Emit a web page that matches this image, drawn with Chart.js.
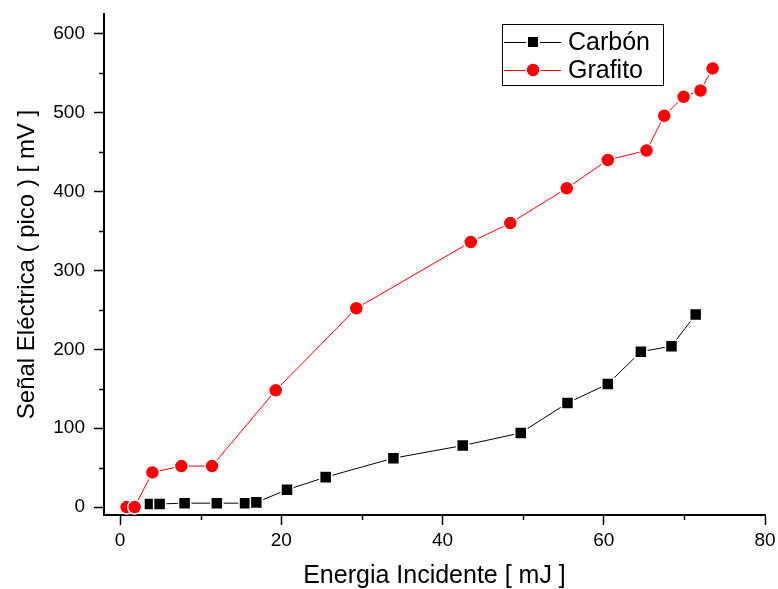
<!DOCTYPE html>
<html>
<head>
<meta charset="utf-8">
<script src="https://cdn.jsdelivr.net/npm/chart.js@4.4.0/dist/chart.umd.min.js"></script>
<style>
  html, body { margin: 0; padding: 0; background: #fff; }
  #wrap { width: 778px; height: 589px; }
</style>
</head>
<body>
<div id="wrap"><canvas id="chart" width="778" height="589"></canvas></div>
<script>
// valores
const carbonX = [3.7, 4.9, 8.0, 12.0, 15.5, 16.9, 20.7, 25.5, 33.9, 42.5, 49.7, 55.5, 60.5, 64.6, 68.4, 71.4];
const carbonY = [4, 4, 5, 5, 5, 6, 22, 38, 62, 78, 94, 132, 156, 197, 204, 244];
const grafitoX = [0.8, 1.8, 4.0, 7.6, 11.4, 19.3, 29.3, 43.5, 48.4, 55.4, 60.5, 65.3, 67.5, 69.9, 72.0, 73.5];
const grafitoY = [0, 0, 44, 52, 52, 148, 252, 336, 360, 404, 440, 452, 496, 520, 528, 556];
const xTicks = [0, 20, 40, 60, 80];
const xMinorTicks = [10, 30, 50, 70];
const yTicks = [0, 100, 200, 300, 400, 500, 600];
const yMinorTicks = [50, 150, 250, 350, 450, 550];

const FONT = "'Liberation Sans', Arial, sans-serif";

function toPoints(xs, ys) {
    return xs.map(function(x, i) { return { x: x, y: ys[i] }; });
}

// ticks menores hacia afuera
const minorTicks = {
    id: 'minorTicks',
    afterDraw(chart) {
        const ctx = chart.ctx;
        const xs = chart.scales.x;
        const ys = chart.scales.y;
        ctx.save();
        ctx.strokeStyle = '#000';
        ctx.lineWidth = 1.5;
        ctx.beginPath();
        xMinorTicks.forEach(function(v) {
            const px = Math.round(xs.getPixelForValue(v)) + 0.5;
            ctx.moveTo(px, xs.top);
            ctx.lineTo(px, xs.top + 5);
        });
        yMinorTicks.forEach(function(v) {
            const py = Math.round(ys.getPixelForValue(v)) + 0.5;
            ctx.moveTo(ys.right, py);
            ctx.lineTo(ys.right - 5, py);
        });
        ctx.stroke();
        ctx.restore();
    }
};

// leyenda con caja dentro del area
const boxLegend = {
    id: 'boxLegend',
    afterDraw(chart) {
        const ctx = chart.ctx;
        const left = 502, top = 24, w = 161, h = 61;
        ctx.save();
        ctx.fillStyle = '#fff';
        ctx.fillRect(left, top, w, h);
        ctx.strokeStyle = '#000';
        ctx.lineWidth = 1;
        ctx.strokeRect(left + 0.5, top + 0.5, w, h);
        const rows = [42, 70];
        chart.data.datasets.forEach(function(ds, i) {
            const y = rows[i];
            ctx.strokeStyle = ds.borderColor;
            ctx.lineWidth = 1;
            ctx.beginPath();
            ctx.moveTo(504, y + 0.5);
            ctx.lineTo(561, y + 0.5);
            ctx.stroke();
            if (ds.pointStyle === 'rect') {
                ctx.fillStyle = '#fff';
                ctx.fillRect(526, y - 7, 14, 14);
                ctx.fillStyle = ds.backgroundColor;
                ctx.fillRect(528, y - 5, 10, 10);
            } else {
                ctx.fillStyle = '#fff';
                ctx.beginPath();
                ctx.arc(533, y, 8, 0, Math.PI * 2);
                ctx.fill();
                ctx.fillStyle = ds.backgroundColor;
                ctx.beginPath();
                ctx.arc(533, y, 6.2, 0, Math.PI * 2);
                ctx.fill();
            }
            ctx.fillStyle = '#000';
            ctx.font = '25px ' + FONT;
            ctx.textBaseline = 'middle';
            ctx.fillText(ds.label, 568, y + 1);
        });
        ctx.restore();
    }
};

new Chart(document.getElementById('chart'), {
    type: 'scatter',
    data: {
        datasets: [
            {
                label: 'Carbón',
                data: toPoints(carbonX, carbonY),
                showLine: true,
                borderColor: '#000',
                backgroundColor: '#000',
                borderWidth: 1,
                pointStyle: 'rect',
                pointRadius: 8.5,
                pointBorderColor: '#fff',
                pointBorderWidth: 1.5,
                pointHoverRadius: 8.5
            },
            {
                label: 'Grafito',
                data: toPoints(grafitoX, grafitoY),
                showLine: true,
                borderColor: '#ff0000',
                backgroundColor: '#ff0000',
                borderWidth: 1,
                pointStyle: 'circle',
                pointRadius: 7,
                pointBorderColor: '#fff',
                pointBorderWidth: 1.5,
                pointHoverRadius: 7
            }
        ]
    },
    options: {
        responsive: false,
        devicePixelRatio: 1,
        animation: false,
        layout: { padding: { top: 14, right: 13, left: 0, bottom: 0 } },
        plugins: {
            legend: { display: false },
            tooltip: { enabled: false }
        },
        scales: {
            x: {
                type: 'linear',
                min: -2,
                max: 80,
                afterBuildTicks: function(scale) {
                    scale.ticks = xTicks.map(function(v) { return { value: v }; });
                },
                afterFit: function(scale) {
                    scale.height = 74;
                    scale.paddingLeft = 0;
                    scale.paddingRight = 0;
                },
                grid: {
                    drawOnChartArea: false,
                    drawTicks: true,
                    tickLength: 10,
                    tickWidth: 1.5,
                    tickColor: '#000'
                },
                border: { display: true, color: '#000', width: 2 },
                ticks: {
                    color: '#000',
                    padding: 4,
                    maxRotation: 0,
                    font: { family: FONT, size: 19 }
                },
                title: {
                    display: true,
                    text: 'Energia Incidente [ mJ ]',
                    color: '#000',
                    font: { family: FONT, size: 25, lineHeight: 1 },
                    padding: { top: 0, bottom: 0 }
                }
            },
            y: {
                type: 'linear',
                min: -10,
                max: 625,
                afterBuildTicks: function(scale) {
                    scale.ticks = yTicks.map(function(v) { return { value: v }; });
                },
                afterFit: function(scale) {
                    scale.width = 104;
                    scale.paddingTop = 0;
                    scale.paddingBottom = 0;
                },
                grid: {
                    drawOnChartArea: false,
                    drawTicks: true,
                    tickLength: 10,
                    tickWidth: 1.5,
                    tickColor: '#000'
                },
                border: { display: true, color: '#000', width: 2 },
                ticks: {
                    color: '#000',
                    padding: 9,
                    font: { family: FONT, size: 19 }
                },
                title: {
                    display: true,
                    text: 'Señal Eléctrica ( pico ) [ mV ]',
                    color: '#000',
                    font: { family: FONT, size: 24 },
                    padding: { top: 13, bottom: 0 }
                }
            }
        }
    },
    plugins: [minorTicks, boxLegend]
});
</script>
</body>
</html>
